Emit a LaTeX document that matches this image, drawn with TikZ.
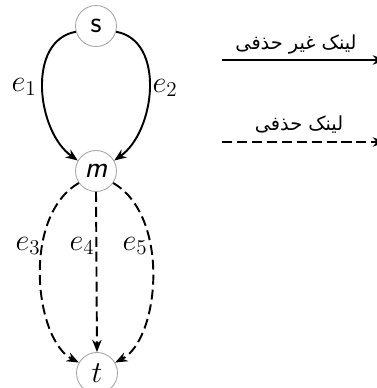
\documentclass[tikz,border=0pt]{standalone}
\usepackage{fontspec}
\usepackage{amsmath}
\usepackage{tikz}
\usetikzlibrary{positioning,arrows.meta}
\newfontfamily\farsi[Script=Arabic]{DejaVu Sans}
\TeXXeTstate=1

\begin{document}
\begin{tikzpicture}[
  >={Stealth[length=7pt,width=5.4pt]},
  vert/.style={draw=gray!70, line width=0.5pt, circle, fill=white,
               minimum size=0.82cm, inner sep=0pt, font=\LARGE},
  lab/.style={font=\LARGE, inner sep=0pt},
  legtxt/.style={font=\farsi\fontsize{11}{13}\selectfont, inner sep=0pt},
  fixed/.style={->, line width=1.1pt},
  removable/.style={->, line width=1.1pt, dash pattern=on 5.7pt off 2.8pt},
]
\useasboundingbox (0,0) rectangle (7.54,-7.76);

% vertices
\node[vert] (s) at (1.92,-0.52) {\sffamily s};
\node[vert] (m) at (1.92,-3.42) {\sffamily\itshape m};
\node[vert] (t) at (1.94,-7.46) {$t$};

% links
\draw[fixed] (s.196) to[out=190,in=145] (m.150);
\draw[fixed] (s.-16) to[out=-10,in=35] (m.30);
\draw[removable] (m.215) to[out=210,in=153,out looseness=0.95,in looseness=0.71] (t.150);
\draw[removable] (m.south) -- (t.north);
\draw[removable] (m.-35) to[out=-30,in=27,out looseness=0.95,in looseness=0.71] (t.30);

\node[lab] (e1) at (0.48,-1.74) {$e_1$};
\node[lab] (e2) at (3.30,-1.76) {$e_2$};
\node[lab] (e3) at (0.56,-4.92) {$e_3$};
\node[lab] (e4) at (1.64,-4.92) {$e_4$};
\node[lab] (e5) at (2.70,-4.92) {$e_5$};

% legend
\node[legtxt] (leg1) at (5.92,-0.90) {\beginR لینک غیر حذفی\endR};
\coordinate (l1a) at (4.44,-1.20);
\coordinate (l1b) at (7.70,-1.20);
\draw[fixed] (l1a) -- (l1b);
\node[legtxt] (leg2) at (5.98,-2.50) {\beginR لینک حذفی\endR};
\coordinate (l2a) at (4.44,-2.84);
\coordinate (l2b) at (7.70,-2.84);
\draw[removable] (l2a) -- (l2b);
\end{tikzpicture}
\end{document}
